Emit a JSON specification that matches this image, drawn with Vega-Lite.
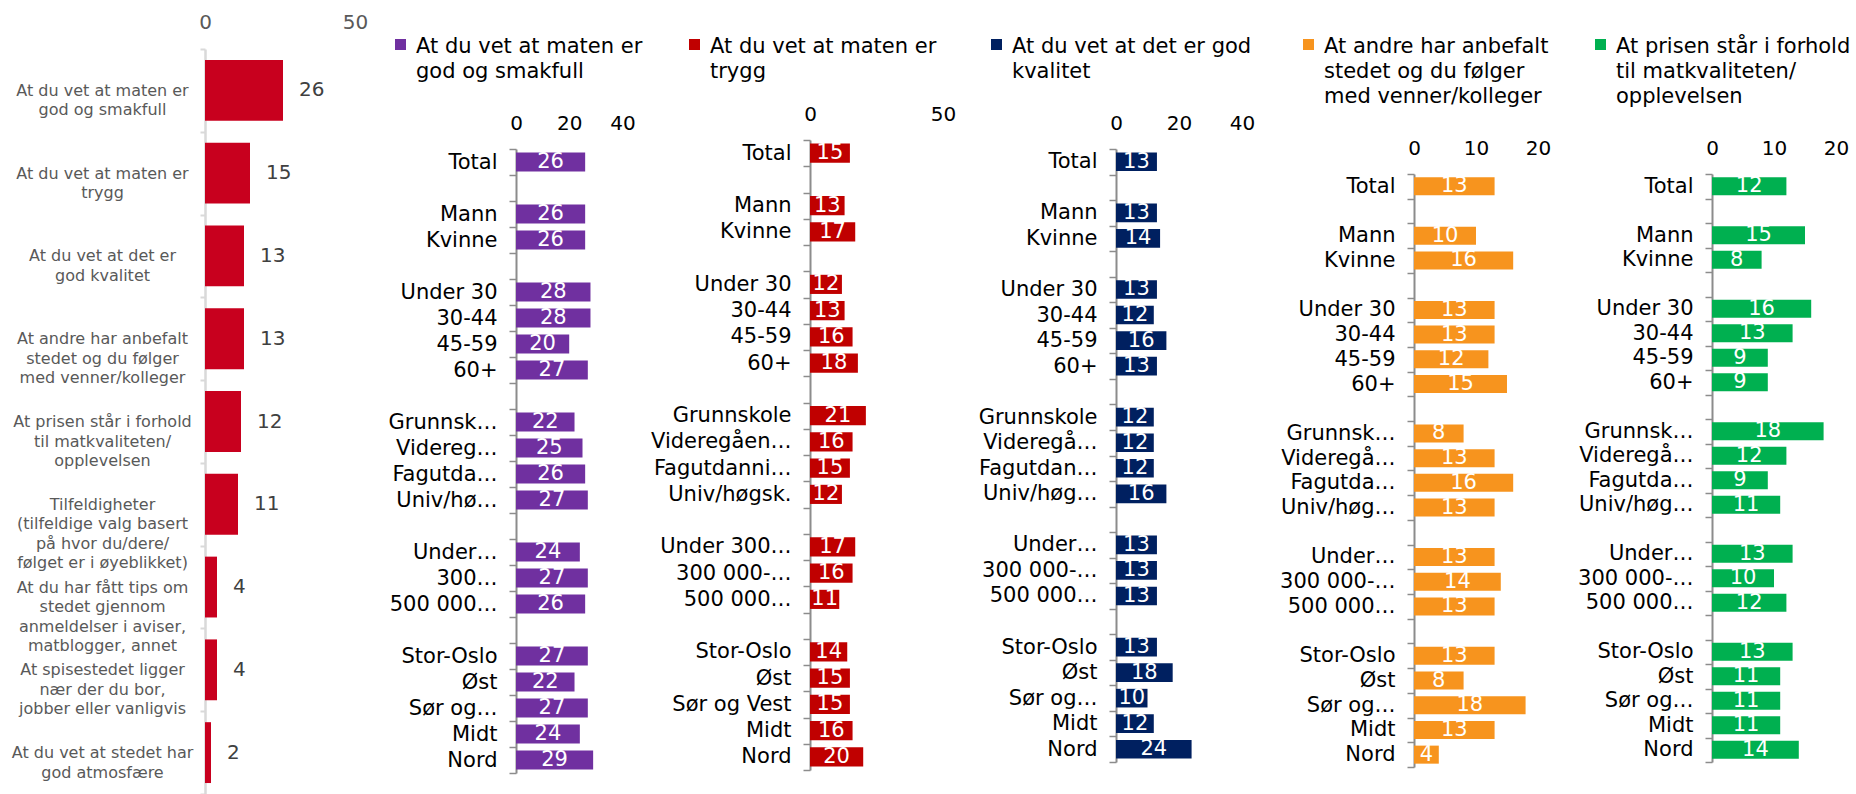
{
  "$schema": "https://vega.github.io/schema/vega-lite/v6.json",
  "background": "white",
  "padding": {"left": 11, "top": 12, "right": 0, "bottom": 0},
  "spacing": 161,
  "bounds": "flush",
  "align": "none",
  "resolve": {"scale": {"color": "independent"}, "legend": {"color": "independent"}},
  "config": {
    "font": "DejaVu Sans",
    "view": {"stroke": null},
    "style": {"guide-label": {"lineHeight": 25}}
  },
  "hconcat": [
    {
      "width": 150, "height": 745,
      "data": {"values": [
        {"k": "At du vet at maten er|god og smakfull", "v": 26},
        {"k": "At du vet at maten er|trygg", "v": 15},
        {"k": "At du vet at det er|god kvalitet", "v": 13},
        {"k": "At andre har anbefalt|stedet og du følger|med venner/kolleger", "v": 13},
        {"k": "At prisen står i forhold|til matkvaliteten/|opplevelsen", "v": 12},
        {"k": "Tilfeldigheter|(tilfeldige valg basert|på hvor du/dere/|følget er i øyeblikket)", "v": 11},
        {"k": "At du har fått tips om|stedet gjennom|anmeldelser i aviser,|matblogger, annet", "v": 4},
        {"k": "At spisestedet ligger|nær der du bor,|jobber eller vanligvis", "v": 4},
        {"k": "At du vet at stedet har|god atmosfære", "v": 2}
      ]},
      "encoding": {
        "y": {"field": "k", "type": "nominal", "sort": null, "title": null,
          "scale": {"paddingInner": 0, "paddingOuter": 0},
          "axis": {"labelExpr": "isString(datum.value) ? split(datum.value,'|') : ''", "labelAlign": "center", "labelBaseline": "middle", "labelPadding": 98, "labelFontSize": 16, "labelColor": "#595959", "labelLineHeight": 19.5, "labelLimit": 400, "labelOverlap": false, "labelBound": false, "ticks": true, "tickBand": "extent", "tickSize": 5, "tickColor": "#D9D9D9", "tickWidth": 2, "domain": true, "domainColor": "#D9D9D9", "domainWidth": 2.5}}
      },
      "layer": [
        {"mark": {"type": "bar", "height": {"band": 0.735}, "color": "#C8001E"},
         "encoding": {"x": {"field": "v", "type": "quantitative", "scale": {"domain": [0, 50], "nice": false},
           "axis": {"orient": "top", "title": null, "values": [0, 50], "domain": false, "ticks": false, "grid": false, "labelFontSize": 20, "labelColor": "#595959", "labelPadding": 17, "labelFlush": false}}}},
        {"mark": {"type": "text", "align": "left", "baseline": "middle", "dx": 16, "fontSize": 20, "color": "#404040"},
         "encoding": {"x": {"field": "v", "type": "quantitative"}, "text": {"field": "v", "type": "quantitative"}}}
      ]
    },
    {
      "width": 133, "height": 724,
      "data": {"values": [
        {"k": "Total", "v": 26}, {"k": "Mann", "v": 26}, {"k": "Kvinne", "v": 26},
        {"k": "Under 30", "v": 28}, {"k": "30-44", "v": 28}, {"k": "45-59", "v": 20}, {"k": "60+", "v": 27},
        {"k": "Grunnskole", "v": 22}, {"k": "Videregående", "v": 25}, {"k": "Fagutdanning", "v": 26}, {"k": "Univ/høgsk.", "v": 27},
        {"k": "Under 300 000", "v": 24}, {"k": "300 000-499 999", "v": 27}, {"k": "500 000+", "v": 26},
        {"k": "Stor-Oslo", "v": 27}, {"k": "Øst", "v": 22}, {"k": "Sør og Vest", "v": 27}, {"k": "Midt", "v": 24}, {"k": "Nord", "v": 29}
      ]},
      "encoding": {
        "y": {"field": "k", "type": "nominal", "title": null,
          "scale": {"domain": ["Total","_1","Mann","Kvinne","_2","Under 30","30-44","45-59","60+","_3","Grunnskole","Videregående","Fagutdanning","Univ/høgsk.","_4","Under 300 000","300 000-499 999","500 000+","_5","Stor-Oslo","Øst","Sør og Vest","Midt","Nord"], "range": [100, 724], "paddingInner": 0, "paddingOuter": 0},
          "axis": {"labelExpr": "!isString(datum.value) || indexof(datum.value,'_')==0 ? '' : datum.value=='Grunnskole' ? 'Grunnsk…' : datum.value=='Videregående' ? 'Videreg…' : datum.value=='Fagutdanning' ? 'Fagutda…' : datum.value=='Univ/høgsk.' ? 'Univ/hø…' : datum.value=='Under 300 000' ? 'Under…' : datum.value=='300 000-499 999' ? '300…' : datum.value=='500 000+' ? '500 000…' : datum.value=='Sør og Vest' ? 'Sør og…' : datum.value", "labelFontSize": 21, "labelColor": "black", "labelPadding": 12, "labelLimit": 400, "labelOverlap": false, "labelBound": false, "ticks": true, "tickBand": "extent", "tickSize": 7, "tickColor": "#8C8C8C", "tickWidth": 1.5, "domain": true, "domainColor": "#8C8C8C", "domainWidth": 2}}
      },
      "layer": [
        {"mark": {"type": "bar", "height": {"band": 0.73}},
         "encoding": {
           "x": {"field": "v", "type": "quantitative", "scale": {"domain": [0, 50], "nice": false},
             "axis": {"orient": "top", "title": null, "values": [0, 20, 40], "domain": false, "ticks": false, "grid": false, "labelFontSize": 20, "labelColor": "black", "labelPadding": 16, "labelFlush": false, "offset": -100}},
           "color": {"datum": "At du vet at maten er|god og smakfull", "scale": {"range": ["#7030A0"]},
             "legend": {"title": null, "orient": "none", "legendX": -126, "legendY": -7, "symbolType": "M-1,-2.45H1V-0.45H-1Z", "symbolSize": 121, "symbolStrokeWidth": 0, "labelFontSize": 21, "labelColor": "black", "labelBaseline": "alphabetic", "labelLimit": 600, "labelOffset": 5, "labelExpr": "split(datum.label,'|')", "padding": 0}}
         }},
        {"mark": {"type": "text", "fontSize": 21, "color": "white", "align": "center", "baseline": "middle"},
         "encoding": {"x": {"field": "v", "type": "quantitative", "scale": {"domain": [0, 100], "nice": false}, "axis": null}, "text": {"field": "v", "type": "quantitative"}}}
      ],
      "resolve": {"scale": {"x": "independent"}, "axis": {"x": "independent"}}
    },
    {
      "width": 145, "height": 721,
      "data": {"values": [
        {"k": "Total", "v": 15}, {"k": "Mann", "v": 13}, {"k": "Kvinne", "v": 17},
        {"k": "Under 30", "v": 12}, {"k": "30-44", "v": 13}, {"k": "45-59", "v": 16}, {"k": "60+", "v": 18},
        {"k": "Grunnskole", "v": 21}, {"k": "Videregående", "v": 16}, {"k": "Fagutdanning", "v": 15}, {"k": "Univ/høgsk.", "v": 12},
        {"k": "Under 300 000", "v": 17}, {"k": "300 000-499 999", "v": 16}, {"k": "500 000+", "v": 11},
        {"k": "Stor-Oslo", "v": 14}, {"k": "Øst", "v": 15}, {"k": "Sør og Vest", "v": 15}, {"k": "Midt", "v": 16}, {"k": "Nord", "v": 20}
      ]},
      "encoding": {
        "y": {"field": "k", "type": "nominal", "title": null,
          "scale": {"domain": ["Total","_1","Mann","Kvinne","_2","Under 30","30-44","45-59","60+","_3","Grunnskole","Videregående","Fagutdanning","Univ/høgsk.","_4","Under 300 000","300 000-499 999","500 000+","_5","Stor-Oslo","Øst","Sør og Vest","Midt","Nord"], "range": [91, 721], "paddingInner": 0, "paddingOuter": 0},
          "axis": {"labelExpr": "!isString(datum.value) || indexof(datum.value,'_')==0 ? '' : datum.value=='Videregående' ? 'Videregåen…' : datum.value=='Fagutdanning' ? 'Fagutdanni…' : datum.value=='Under 300 000' ? 'Under 300…' : datum.value=='300 000-499 999' ? '300 000-…' : datum.value=='500 000+' ? '500 000…' : datum.value", "labelFontSize": 21, "labelColor": "black", "labelPadding": 12, "labelLimit": 400, "labelOverlap": false, "labelBound": false, "ticks": true, "tickBand": "extent", "tickSize": 7, "tickColor": "#8C8C8C", "tickWidth": 1.5, "domain": true, "domainColor": "#8C8C8C", "domainWidth": 2}}
      },
      "layer": [
        {"mark": {"type": "bar", "height": {"band": 0.73}},
         "encoding": {
           "x": {"field": "v", "type": "quantitative", "scale": {"domain": [0, 54.5], "nice": false},
             "axis": {"orient": "top", "title": null, "values": [0, 50], "domain": false, "ticks": false, "grid": false, "labelFontSize": 20, "labelColor": "black", "labelPadding": 16, "labelFlush": false, "offset": -91}},
           "color": {"datum": "At du vet at maten er|trygg", "scale": {"range": ["#C00000"]},
             "legend": {"title": null, "orient": "none", "legendX": -126, "legendY": -7, "symbolType": "M-1,-2.45H1V-0.45H-1Z", "symbolSize": 121, "symbolStrokeWidth": 0, "labelFontSize": 21, "labelColor": "black", "labelBaseline": "alphabetic", "labelLimit": 600, "labelOffset": 5, "labelExpr": "split(datum.label,'|')", "padding": 0}}
         }},
        {"mark": {"type": "text", "fontSize": 21, "color": "white", "align": "center", "baseline": "middle"},
         "encoding": {"x": {"field": "v", "type": "quantitative", "scale": {"domain": [0, 109], "nice": false}, "axis": null}, "text": {"field": "v", "type": "quantitative"}}}
      ],
      "resolve": {"scale": {"x": "independent"}, "axis": {"x": "independent"}}
    },
    {
      "width": 137, "height": 713,
      "data": {"values": [
        {"k": "Total", "v": 13}, {"k": "Mann", "v": 13}, {"k": "Kvinne", "v": 14},
        {"k": "Under 30", "v": 13}, {"k": "30-44", "v": 12}, {"k": "45-59", "v": 16}, {"k": "60+", "v": 13},
        {"k": "Grunnskole", "v": 12}, {"k": "Videregående", "v": 12}, {"k": "Fagutdanning", "v": 12}, {"k": "Univ/høgsk.", "v": 16},
        {"k": "Under 300 000", "v": 13}, {"k": "300 000-499 999", "v": 13}, {"k": "500 000+", "v": 13},
        {"k": "Stor-Oslo", "v": 13}, {"k": "Øst", "v": 18}, {"k": "Sør og Vest", "v": 10}, {"k": "Midt", "v": 12}, {"k": "Nord", "v": 24}
      ]},
      "encoding": {
        "y": {"field": "k", "type": "nominal", "title": null,
          "scale": {"domain": ["Total","_1","Mann","Kvinne","_2","Under 30","30-44","45-59","60+","_3","Grunnskole","Videregående","Fagutdanning","Univ/høgsk.","_4","Under 300 000","300 000-499 999","500 000+","_5","Stor-Oslo","Øst","Sør og Vest","Midt","Nord"], "range": [100, 713], "paddingInner": 0, "paddingOuter": 0},
          "axis": {"labelExpr": "!isString(datum.value) || indexof(datum.value,'_')==0 ? '' : datum.value=='Videregående' ? 'Videregå…' : datum.value=='Fagutdanning' ? 'Fagutdan…' : datum.value=='Univ/høgsk.' ? 'Univ/høg…' : datum.value=='Under 300 000' ? 'Under…' : datum.value=='300 000-499 999' ? '300 000-…' : datum.value=='500 000+' ? '500 000…' : datum.value=='Sør og Vest' ? 'Sør og…' : datum.value", "labelFontSize": 21, "labelColor": "black", "labelPadding": 12, "labelLimit": 400, "labelOverlap": false, "labelBound": false, "ticks": true, "tickBand": "extent", "tickSize": 7, "tickColor": "#8C8C8C", "tickWidth": 1.5, "domain": true, "domainColor": "#8C8C8C", "domainWidth": 2}}
      },
      "layer": [
        {"mark": {"type": "bar", "height": {"band": 0.73}},
         "encoding": {
           "x": {"field": "v", "type": "quantitative", "scale": {"domain": [0, 43.5], "nice": false},
             "axis": {"orient": "top", "title": null, "values": [0, 20, 40], "domain": false, "ticks": false, "grid": false, "labelFontSize": 20, "labelColor": "black", "labelPadding": 16, "labelFlush": false, "offset": -100}},
           "color": {"datum": "At du vet at det er god|kvalitet", "scale": {"range": ["#002060"]},
             "legend": {"title": null, "orient": "none", "legendX": -130, "legendY": -7, "symbolType": "M-1,-2.45H1V-0.45H-1Z", "symbolSize": 121, "symbolStrokeWidth": 0, "labelFontSize": 21, "labelColor": "black", "labelBaseline": "alphabetic", "labelLimit": 600, "labelOffset": 5, "labelExpr": "split(datum.label,'|')", "padding": 0}}
         }},
        {"mark": {"type": "text", "fontSize": 21, "color": "white", "align": "center", "baseline": "middle"},
         "encoding": {"x": {"field": "v", "type": "quantitative", "scale": {"domain": [0, 87], "nice": false}, "axis": null}, "text": {"field": "v", "type": "quantitative"}}}
      ],
      "resolve": {"scale": {"x": "independent"}, "axis": {"x": "independent"}}
    },
    {
      "width": 137, "height": 718,
      "data": {"values": [
        {"k": "Total", "v": 13}, {"k": "Mann", "v": 10}, {"k": "Kvinne", "v": 16},
        {"k": "Under 30", "v": 13}, {"k": "30-44", "v": 13}, {"k": "45-59", "v": 12}, {"k": "60+", "v": 15},
        {"k": "Grunnskole", "v": 8}, {"k": "Videregående", "v": 13}, {"k": "Fagutdanning", "v": 16}, {"k": "Univ/høgsk.", "v": 13},
        {"k": "Under 300 000", "v": 13}, {"k": "300 000-499 999", "v": 14}, {"k": "500 000+", "v": 13},
        {"k": "Stor-Oslo", "v": 13}, {"k": "Øst", "v": 8}, {"k": "Sør og Vest", "v": 18}, {"k": "Midt", "v": 13}, {"k": "Nord", "v": 4}
      ]},
      "encoding": {
        "y": {"field": "k", "type": "nominal", "title": null,
          "scale": {"domain": ["Total","_1","Mann","Kvinne","_2","Under 30","30-44","45-59","60+","_3","Grunnskole","Videregående","Fagutdanning","Univ/høgsk.","_4","Under 300 000","300 000-499 999","500 000+","_5","Stor-Oslo","Øst","Sør og Vest","Midt","Nord"], "range": [125, 718], "paddingInner": 0, "paddingOuter": 0},
          "axis": {"labelExpr": "!isString(datum.value) || indexof(datum.value,'_')==0 ? '' : datum.value=='Grunnskole' ? 'Grunnsk…' : datum.value=='Videregående' ? 'Videregå…' : datum.value=='Fagutdanning' ? 'Fagutda…' : datum.value=='Univ/høgsk.' ? 'Univ/høg…' : datum.value=='Under 300 000' ? 'Under…' : datum.value=='300 000-499 999' ? '300 000-…' : datum.value=='500 000+' ? '500 000…' : datum.value=='Sør og Vest' ? 'Sør og…' : datum.value", "labelFontSize": 21, "labelColor": "black", "labelPadding": 12, "labelLimit": 400, "labelOverlap": false, "labelBound": false, "ticks": true, "tickBand": "extent", "tickSize": 7, "tickColor": "#8C8C8C", "tickWidth": 1.5, "domain": true, "domainColor": "#8C8C8C", "domainWidth": 2}}
      },
      "layer": [
        {"mark": {"type": "bar", "height": {"band": 0.73}},
         "encoding": {
           "x": {"field": "v", "type": "quantitative", "scale": {"domain": [0, 22.1], "nice": false},
             "axis": {"orient": "top", "title": null, "values": [0, 10, 20], "domain": false, "ticks": false, "grid": false, "labelFontSize": 20, "labelColor": "black", "labelPadding": 16, "labelFlush": false, "offset": -125}},
           "color": {"datum": "At andre har anbefalt|stedet og du følger|med venner/kolleger", "scale": {"range": ["#F7941E"]},
             "legend": {"title": null, "orient": "none", "legendX": -116, "legendY": -7, "symbolType": "M-1,-2.45H1V-0.45H-1Z", "symbolSize": 121, "symbolStrokeWidth": 0, "labelFontSize": 21, "labelColor": "black", "labelBaseline": "alphabetic", "labelLimit": 600, "labelOffset": 5, "labelExpr": "split(datum.label,'|')", "padding": 0}}
         }},
        {"mark": {"type": "text", "fontSize": 21, "color": "white", "align": "center", "baseline": "middle"},
         "encoding": {"x": {"field": "v", "type": "quantitative", "scale": {"domain": [0, 44.2], "nice": false}, "axis": null}, "text": {"field": "v", "type": "quantitative"}}}
      ],
      "resolve": {"scale": {"x": "independent"}, "axis": {"x": "independent"}}
    },
    {
      "width": 124, "height": 713,
      "data": {"values": [
        {"k": "Total", "v": 12}, {"k": "Mann", "v": 15}, {"k": "Kvinne", "v": 8},
        {"k": "Under 30", "v": 16}, {"k": "30-44", "v": 13}, {"k": "45-59", "v": 9}, {"k": "60+", "v": 9},
        {"k": "Grunnskole", "v": 18}, {"k": "Videregående", "v": 12}, {"k": "Fagutdanning", "v": 9}, {"k": "Univ/høgsk.", "v": 11},
        {"k": "Under 300 000", "v": 13}, {"k": "300 000-499 999", "v": 10}, {"k": "500 000+", "v": 12},
        {"k": "Stor-Oslo", "v": 13}, {"k": "Øst", "v": 11}, {"k": "Sør og Vest", "v": 11}, {"k": "Midt", "v": 11}, {"k": "Nord", "v": 14}
      ]},
      "encoding": {
        "y": {"field": "k", "type": "nominal", "title": null,
          "scale": {"domain": ["Total","_1","Mann","Kvinne","_2","Under 30","30-44","45-59","60+","_3","Grunnskole","Videregående","Fagutdanning","Univ/høgsk.","_4","Under 300 000","300 000-499 999","500 000+","_5","Stor-Oslo","Øst","Sør og Vest","Midt","Nord"], "range": [125, 713], "paddingInner": 0, "paddingOuter": 0},
          "axis": {"labelExpr": "!isString(datum.value) || indexof(datum.value,'_')==0 ? '' : datum.value=='Grunnskole' ? 'Grunnsk…' : datum.value=='Videregående' ? 'Videregå…' : datum.value=='Fagutdanning' ? 'Fagutda…' : datum.value=='Univ/høgsk.' ? 'Univ/høg…' : datum.value=='Under 300 000' ? 'Under…' : datum.value=='300 000-499 999' ? '300 000-…' : datum.value=='500 000+' ? '500 000…' : datum.value=='Sør og Vest' ? 'Sør og…' : datum.value", "labelFontSize": 21, "labelColor": "black", "labelPadding": 12, "labelLimit": 400, "labelOverlap": false, "labelBound": false, "ticks": true, "tickBand": "extent", "tickSize": 7, "tickColor": "#8C8C8C", "tickWidth": 1.5, "domain": true, "domainColor": "#8C8C8C", "domainWidth": 2}}
      },
      "layer": [
        {"mark": {"type": "bar", "height": {"band": 0.73}},
         "encoding": {
           "x": {"field": "v", "type": "quantitative", "scale": {"domain": [0, 20], "nice": false},
             "axis": {"orient": "top", "title": null, "values": [0, 10, 20], "domain": false, "ticks": false, "grid": false, "labelFontSize": 20, "labelColor": "black", "labelPadding": 16, "labelFlush": false, "offset": -125}},
           "color": {"datum": "At prisen står i forhold|til matkvaliteten/|opplevelsen", "scale": {"range": ["#00B050"]},
             "legend": {"title": null, "orient": "none", "legendX": -122, "legendY": -7, "symbolType": "M-1,-2.45H1V-0.45H-1Z", "symbolSize": 121, "symbolStrokeWidth": 0, "labelFontSize": 21, "labelColor": "black", "labelBaseline": "alphabetic", "labelLimit": 600, "labelOffset": 5, "labelExpr": "split(datum.label,'|')", "padding": 0}}
         }},
        {"mark": {"type": "text", "fontSize": 21, "color": "white", "align": "center", "baseline": "middle"},
         "encoding": {"x": {"field": "v", "type": "quantitative", "scale": {"domain": [0, 40], "nice": false}, "axis": null}, "text": {"field": "v", "type": "quantitative"}}}
      ],
      "resolve": {"scale": {"x": "independent"}, "axis": {"x": "independent"}}
    }
  ]
}
